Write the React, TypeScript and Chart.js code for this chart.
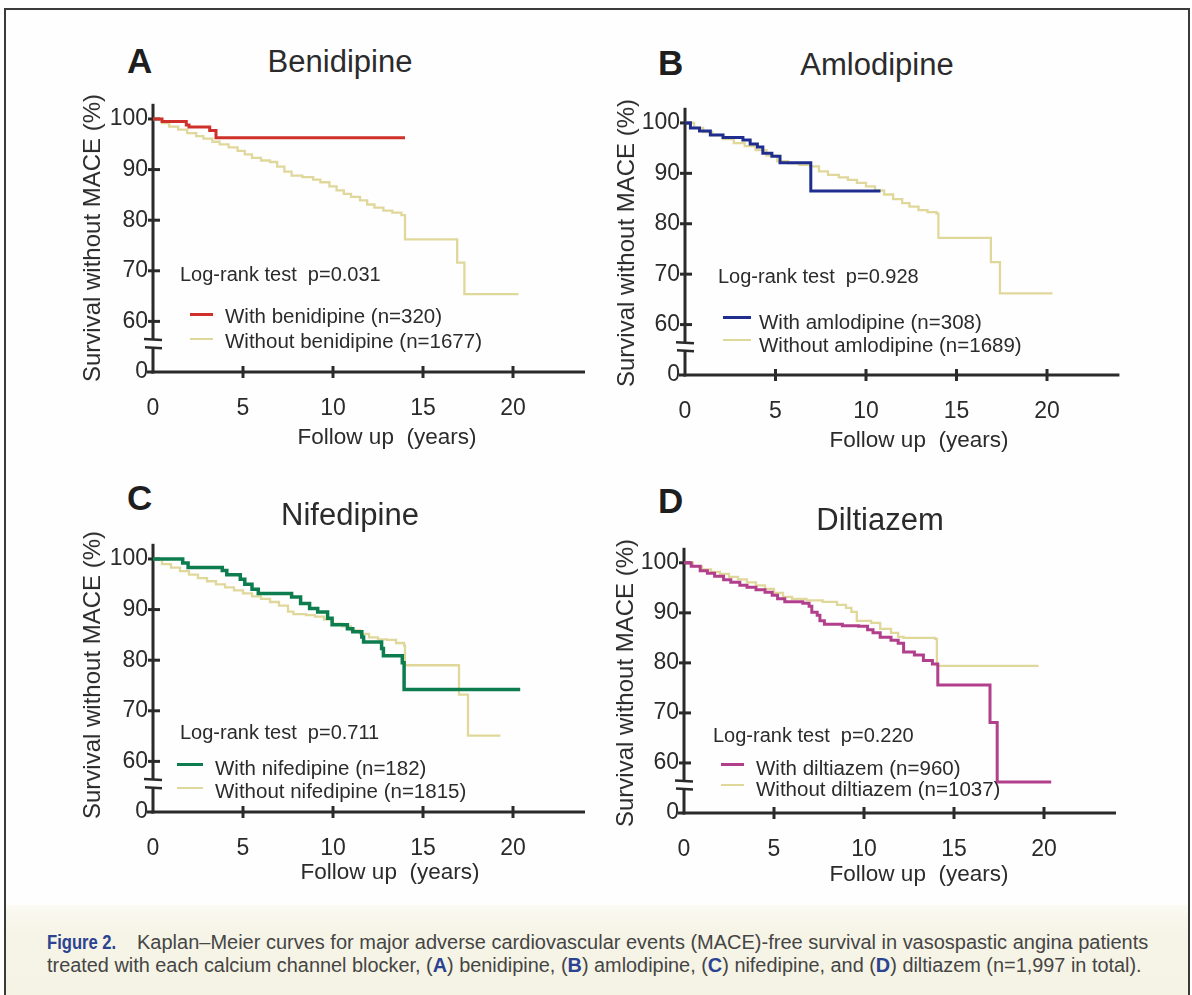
import React, { useEffect, useLayoutEffect, useRef, useState } from "react";
import { Chart, registerables } from "chart.js";
Chart.register(...registerables);

// ---------- data (time in years, survival in %) ----------
const X_TICKS = [0, 5, 10, 15, 20];
const Y_TICKS = [50, 60, 70, 80, 90, 100]; // 50 is drawn as "0" below the axis break
const X_MAX = 24;
const Y_MIN = 50;
const Y_MAX = 103;

const benidipineWith = [[0,100],[0.5,99.5],[1.85,98.8],[2.0,98.4],[3.15,97.7],[3.5,96.3],[14.0,96.3]];
const benidipineWithout = [[0,100],[0.5,99.2],[0.9,98.5],[1.4,97.9],[1.9,97.2],[2.4,96.6],[2.8,96.1],[3.3,95.5],[3.7,95.0],[4.2,94.4],[4.7,93.7],[5.1,93.0],[5.5,92.3],[6.0,91.8],[6.5,91.5],[6.9,90.6],[7.3,89.6],[7.7,88.8],[8.3,88.5],[8.9,88.0],[9.3,87.5],[9.8,86.7],[10.2,85.9],[10.6,85.2],[11.0,84.6],[11.5,83.9],[11.9,83.1],[12.3,82.5],[12.8,81.9],[13.3,81.5],[13.8,81.0],[14.0,76.2],[16.9,71.6],[17.3,65.4],[20.3,65.4]];

const amlodipineWith = [[0,100],[0.3,99.0],[0.8,98.4],[1.4,97.6],[2.1,97.1],[3.2,96.6],[3.6,95.8],[4.0,95.2],[4.3,94.0],[4.8,93.4],[5.25,92.1],[6.95,86.5],[10.8,86.5]];
const amlodipineWithout = [[0,100],[0.5,99.0],[1.0,98.2],[1.5,97.6],[2.1,96.8],[2.7,96.0],[3.3,95.4],[3.9,94.6],[4.5,93.5],[5.1,92.4],[5.7,92.0],[6.3,91.7],[6.9,91.4],[7.4,90.4],[7.9,89.7],[8.5,89.2],[9.0,88.7],[9.5,88.1],[10.0,87.4],[10.5,86.6],[11.0,85.8],[11.5,84.9],[12.0,84.1],[12.4,83.4],[12.9,82.7],[13.4,82.3],[13.9,82.0],[14.0,77.2],[16.9,72.4],[17.4,66.2],[20.3,66.2]];

const nifedipineWith = [[0,100],[1.65,99.2],[1.95,98.3],[3.85,97.7],[4.1,96.9],[4.85,96.0],[5.1,95.0],[5.5,94.0],[5.85,93.2],[7.7,92.5],[8.2,91.2],[8.7,90.2],[9.15,89.5],[9.7,88.3],[9.95,87.0],[10.8,86.2],[11.1,85.6],[11.6,84.6],[11.7,83.6],[12.7,82.3],[12.8,80.9],[13.85,79.5],[13.95,74.2],[20.4,74.2]];
const nifedipineWithout = [[0,100],[0.5,99.0],[1.0,98.3],[1.5,97.6],[2.0,96.9],[2.5,96.2],[3.0,95.6],[3.5,95.0],[4.0,94.4],[4.5,93.8],[5.0,93.2],[5.5,92.6],[6.0,92.1],[6.5,91.5],[7.0,90.8],[7.5,89.6],[7.8,89.1],[8.5,88.9],[9.0,88.6],[9.5,88.0],[10.0,87.2],[10.5,86.7],[11.0,85.9],[11.5,85.2],[12.0,84.5],[12.5,84.1],[13.0,84.0],[13.5,83.4],[13.95,82.9],[14.0,79.0],[17.0,73.2],[17.5,65.1],[19.3,65.1]];

const diltiazemWith = [[0,100],[0.4,99.3],[0.9,98.4],[1.3,97.9],[1.7,97.3],[2.2,96.6],[2.6,96.1],[3.1,95.5],[3.5,95.1],[4.0,94.6],[4.5,94.1],[4.9,93.5],[5.2,92.8],[5.6,92.2],[6.6,91.9],[6.95,91.3],[7.1,90.1],[7.4,89.5],[7.55,88.4],[7.8,87.7],[8.8,87.4],[9.7,87.3],[10.2,86.6],[10.5,86.0],[10.9,85.1],[11.5,84.5],[11.9,83.9],[12.2,82.2],[12.8,81.6],[13.3,80.5],[13.8,79.8],[14.1,75.6],[17.0,68.1],[17.4,56.2],[20.4,56.2]];
const diltiazemWithout = [[0,100],[0.5,99.3],[1.0,98.7],[1.5,98.2],[2.0,97.8],[2.5,97.2],[3.0,96.7],[3.5,96.1],[4.0,95.5],[4.5,94.8],[5.0,94.0],[5.5,93.2],[6.0,92.8],[6.8,92.5],[7.7,92.2],[8.5,91.6],[9.0,91.0],[9.3,90.2],[9.6,88.4],[10.4,88.0],[10.9,86.8],[11.5,86.0],[11.9,85.2],[12.2,85.0],[13.95,84.8],[14.05,79.4],[19.7,79.4]];

// ---------- styling / layout ----------
const FONT = '"Liberation Sans", Arial, Helvetica, sans-serif';
const TXT = "#2b2b2b";
const AXIS = "#2a2a2a";
const YELLOW = "#e0d79a";
const YW = 100; // y-scale box width
const XH = 70;  // x-scale box height

const PANELS = [
  { letter: "A", title: "Benidipine", p: "0.031", withLabel: "With benidipine (n=320)", withoutLabel: "Without benidipine (n=1677)",
    withData: benidipineWith, withoutData: benidipineWithout, color: "#d0302a", width: 3,
    ox: 153, x20: 513, oy: 372, y100: 111, letterX: 127, letterY: 73, titleX: 340, titleY: 72,
    yTitleX: 92, yTitleY: 238, xTitleX: 387, xTitleY: 445, lrX: 180, lrY: 281,
    legX1: 190, legX2: 213, legTextX: 225, row1Y: 323, row2Y: 348, line1Y: 314, line2Y: 339 },
  { letter: "B", title: "Amlodipine", p: "0.928", withLabel: "With amlodipine (n=308)", withoutLabel: "Without amlodipine (n=1689)",
    withData: amlodipineWith, withoutData: amlodipineWithout, color: "#1f2e8e", width: 3,
    ox: 685, x20: 1047, oy: 375, y100: 115, letterX: 658, letterY: 75, titleX: 877, titleY: 75,
    yTitleX: 626, yTitleY: 243, xTitleX: 919, xTitleY: 448, lrX: 718, lrY: 283,
    legX1: 723, legX2: 751, legTextX: 759, row1Y: 329, row2Y: 352, line1Y: 317, line2Y: 340 },
  { letter: "C", title: "Nifedipine", p: "0.711", withLabel: "With nifedipine (n=182)", withoutLabel: "Without nifedipine (n=1815)",
    withData: nifedipineWith, withoutData: nifedipineWithout, color: "#0d7d50", width: 3.5,
    ox: 153, x20: 513, oy: 812, y100: 551, letterX: 127, letterY: 510, titleX: 350, titleY: 525,
    yTitleX: 92, yTitleY: 675, xTitleX: 390, xTitleY: 880, lrX: 180, lrY: 739,
    legX1: 177, legX2: 203, legTextX: 215, row1Y: 775, row2Y: 798, line1Y: 764, line2Y: 788 },
  { letter: "D", title: "Diltiazem", p: "0.220", withLabel: "With diltiazem (n=960)", withoutLabel: "Without diltiazem (n=1037)",
    withData: diltiazemWith, withoutData: diltiazemWithout, color: "#b23f8c", width: 3,
    ox: 684, x20: 1044, oy: 813, y100: 555, letterX: 658, letterY: 513, titleX: 880, titleY: 530,
    yTitleX: 625, yTitleY: 683, xTitleX: 919, xTitleY: 882, lrX: 713, lrY: 742,
    legX1: 721, legX2: 744, legTextX: 756, row1Y: 775, row2Y: 796, line1Y: 764, line2Y: 785 },
];

const axisPlugin = {
  id: "kmAxes",
  beforeDatasetsDraw(chart: any) {
    const { ctx, scales } = chart;
    const x = scales.x, y = scales.y;
    const X0 = x.getPixelForValue(0);
    const Y0 = y.getPixelForValue(50);
    const seg = (a: number, b: number, c: number, d: number) => { ctx.beginPath(); ctx.moveTo(a, b); ctx.lineTo(c, d); ctx.stroke(); };
    ctx.save();
    ctx.strokeStyle = AXIS;
    ctx.lineCap = "butt";
    ctx.lineWidth = 3;
    const bTop = y.getPixelForValue(56.5);
    const bBot = y.getPixelForValue(54.9);
    seg(X0, y.getPixelForValue(Y_MAX), X0, bTop);
    seg(X0, bBot, X0, Y0 + 1.5);
    seg(X0 - 1.5, Y0, x.getPixelForValue(X_MAX), Y0);
    ctx.lineWidth = 2.5;
    seg(X0 - 9, bTop, X0 + 9, bTop + 1);
    seg(X0 - 8, bBot, X0 + 9, bBot + 1);
    ctx.lineWidth = 3;
    for (const v of Y_TICKS) {
      const py = y.getPixelForValue(v);
      if (v === 50) seg(X0 - 6, py, X0, py);
      else seg(X0 - 5, py, X0 + 7, py);
    }
    for (const v of X_TICKS) {
      if (v === 0) continue;
      const px = x.getPixelForValue(v);
      seg(px, Y0 - 6, px, Y0 + 6);
    }
    ctx.restore();
  },
};

function T({ x, y, size, align = "left", weight = 400, color = TXT, children, style = {} }: any) {
  const tx = align === "center" ? "translateX(-50%)" : align === "right" ? "translateX(-100%)" : "none";
  return (
    <div style={{ position: "absolute", left: x, top: y - 0.8465 * size, fontSize: size, lineHeight: `${size}px`,
      fontWeight: weight, color, whiteSpace: "pre", fontFamily: FONT, transform: tx, ...style }}>{children}</div>
  );
}

function Fit({ x, y, size, width, children, weight = 400, color = "#454545" }: any) {
  const ref = useRef<HTMLDivElement>(null);
  const [k, setK] = useState(1);
  useLayoutEffect(() => {
    const el = ref.current;
    if (!el) return;
    const w = el.scrollWidth;
    if (w > 0) setK(width / w);
  }, [width]);
  return (
    <div ref={ref} style={{ position: "absolute", left: x, top: y - 0.8465 * size, fontSize: size, lineHeight: `${size}px`,
      fontWeight: weight, color, whiteSpace: "pre", fontFamily: FONT, transform: `scaleX(${k})`, transformOrigin: "0 0" }}>{children}</div>
  );
}

function Panel({ cfg }: any) {
  const ref = useRef<HTMLCanvasElement>(null);
  const ppx = (cfg.x20 - cfg.ox) / 20;
  const ppu = (cfg.oy - cfg.y100) / 50;
  const chartTop = cfg.oy - (Y_MAX - Y_MIN) * ppu;
  const canvasLeft = cfg.ox - YW;
  const canvasTop = Math.floor(chartTop) - 10;
  const padTop = chartTop - canvasTop;
  const plotW = X_MAX * ppx;
  const width = Math.round(YW + plotW + 10);
  const padRight = width - YW - plotW;
  const height = cfg.oy - canvasTop + XH;

  useEffect(() => {
    if (!ref.current) return;
    const toPts = (arr: number[][]) => arr.map(([t, s]) => ({ x: t, y: s }));
    const tickFont = { family: FONT, size: 23 };
    const chart = new Chart(ref.current, {
      type: "line",
      data: {
        datasets: [
          { label: cfg.withLabel, data: toPts(cfg.withData), borderColor: cfg.color, borderWidth: cfg.width,
            pointRadius: 0, stepped: true, fill: false },
          { label: cfg.withoutLabel, data: toPts(cfg.withoutData), borderColor: YELLOW, borderWidth: 2.3,
            pointRadius: 0, stepped: true, fill: false },
        ],
      },
      options: {
        responsive: false,
        animation: false,
        devicePixelRatio: 1,
        events: [],
        layout: { padding: { top: padTop, right: padRight, left: 0, bottom: 0 } },
        plugins: { legend: { display: false }, tooltip: { enabled: false }, title: { display: false } },
        scales: {
          x: {
            type: "linear", min: 0, max: X_MAX,
            afterFit: (s: any) => { s.height = XH; },
            afterBuildTicks: (s: any) => { s.ticks = X_TICKS.map((v) => ({ value: v })); },
            grid: { display: false, drawTicks: false }, border: { display: false },
            ticks: { padding: 23, font: tickFont, color: TXT, autoSkip: false, maxRotation: 0 },
          },
          y: {
            type: "linear", min: Y_MIN, max: Y_MAX,
            afterFit: (s: any) => { s.width = YW; },
            afterBuildTicks: (s: any) => { s.ticks = Y_TICKS.map((v) => ({ value: v })); },
            grid: { display: false, drawTicks: false }, border: { display: false },
            ticks: { padding: 5, font: tickFont, color: TXT, autoSkip: false,
              callback: (v: any) => (v === 50 ? "0" : String(v)) },
          },
        },
      } as any,
      plugins: [axisPlugin],
    });
    return () => chart.destroy();
  }, []);

  return (
    <>
      <canvas ref={ref} width={width} height={height}
        style={{ position: "absolute", left: canvasLeft, top: canvasTop, width, height }} />
      <T x={cfg.letterX} y={cfg.letterY} size={35} weight={700} color="#1e1e1e">{cfg.letter}</T>
      <T x={cfg.titleX} y={cfg.titleY} size={31} align="center">{cfg.title}</T>
      <div style={{ position: "absolute", left: cfg.yTitleX, top: cfg.yTitleY, transform: "translate(-50%,-50%) rotate(-90deg)",
        fontSize: 24, lineHeight: "24px", whiteSpace: "nowrap", fontFamily: FONT, color: TXT }}>Survival without MACE (%)</div>
      <T x={cfg.xTitleX} y={cfg.xTitleY} size={22.5} align="center">{"Follow up\u00a0 (years)"}</T>
      <T x={cfg.lrX} y={cfg.lrY} size={20}>{`Log-rank test  p=${cfg.p}`}</T>
      <div style={{ position: "absolute", left: cfg.legX1, top: cfg.line1Y - 1.5, width: cfg.legX2 - cfg.legX1, height: 3, background: cfg.color }} />
      <div style={{ position: "absolute", left: cfg.legX1, top: cfg.line2Y - 1, width: cfg.legX2 - cfg.legX1, height: 2, background: YELLOW }} />
      <T x={cfg.legTextX} y={cfg.row1Y} size={20.5}>{cfg.withLabel}</T>
      <T x={cfg.legTextX} y={cfg.row2Y} size={20.5}>{cfg.withoutLabel}</T>
    </>
  );
}

const BLUE = "#2c4391";
const B = ({ c }: any) => <span style={{ color: BLUE, fontWeight: 700 }}>{c}</span>;

export default function App() {
  return (
    <div style={{ position: "absolute", left: 0, top: 0, width: 1192, height: 995, background: "#fefefe", overflow: "hidden", fontFamily: FONT }}>
      <div style={{ position: "absolute", left: 6, top: 905, width: 1183, height: 95,
        background: "linear-gradient(#fbfaf3, #f6f4e6 30%, #f5f3e4)" }} />
      <div style={{ position: "absolute", left: 4, top: 8, width: 1186, height: 1000, border: "2.5px solid #3a3a3a", boxSizing: "border-box" }} />
      {PANELS.map((p) => <Panel key={p.letter} cfg={p} />)}
      <Fit x={47} y={950} size={19.5} width={69} weight={700} color={BLUE}>Figure 2.</Fit>
      <Fit x={137} y={950} size={19.5} width={1011}>Kaplan–Meier curves for major adverse cardiovascular events (MACE)-free survival in vasospastic angina patients</Fit>
      <Fit x={47} y={973} size={19.5} width={1095}>
        treated with each calcium channel blocker, (<B c="A" />) benidipine, (<B c="B" />) amlodipine, (<B c="C" />) nifedipine, and (<B c="D" />) diltiazem (n=1,997 in total).
      </Fit>
    </div>
  );
}
